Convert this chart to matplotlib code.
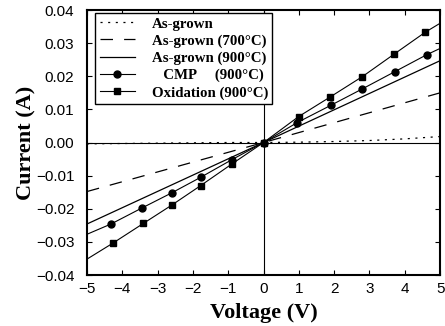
import matplotlib
matplotlib.use("Agg")
import matplotlib.pyplot as plt
from matplotlib.ticker import FuncFormatter, MultipleLocator

plt.rcParams['lines.scale_dashes'] = False

# Data
asg_v = [-5, -4, -3, -2, -1, 0, 1, 2, 3, 4, 5]
asg_i = [-0.0004, -0.0003, -0.0002, -0.0001, 0.0, 0.0, 0.0001, 0.0003, 0.0006, 0.0011, 0.0018]

a700_v = [-5, 0, 5]
a700_i = [-0.0148, 0.0, 0.0150]

a900_v = [-5, 0, 5]
a900_i = [-0.0246, 0.0, 0.0247]

cmp_v = [-5, -4.32, -3.45, -2.60, -1.78, -0.90, 0.0, 0.95, 1.90, 2.80, 3.72, 4.62, 5]
cmp_i = [-0.0277, -0.0246, -0.0198, -0.0152, -0.0105, -0.0052, 0.0, 0.0060, 0.0112, 0.0162, 0.0214, 0.0265, 0.0284]

ox_v = [-5, -4.27, -3.40, -2.60, -1.78, -0.90, 0.0, 0.99, 1.88, 2.80, 3.70, 4.58, 5]
ox_i = [-0.0352, -0.0304, -0.0244, -0.0189, -0.0130, -0.0065, 0.0, 0.0078, 0.0137, 0.0199, 0.0267, 0.0333, 0.0360]

labels = ["As-grown", "As-grown (700\u00b0C)", "As-grown (900\u00b0C)",
          "   CMP     (900\u00b0C)", "Oxidation (900\u00b0C)"]

fig = plt.figure(figsize=(4.45, 3.26), dpi=100)
ax = fig.add_axes([0.1955, 0.1564, 0.7935, 0.8129])

ax.axhline(0, color='black', lw=0.8, zorder=1)
ax.axvline(0, color='black', lw=0.8, zorder=1)

ax.plot(asg_v, asg_i, color='black', lw=0.9, dashes=(1.5, 4), label=labels[0])
ax.plot(a700_v, a700_i, color='black', lw=0.9, dashes=(9, 8), label=labels[1])
ax.plot(a900_v, a900_i, color='black', lw=0.9, label=labels[2])
ax.plot(cmp_v, cmp_i, color='black', lw=0.8, marker='o', markersize=5,
        markevery=slice(1, -1), label=labels[3])
ax.plot(ox_v, ox_i, color='black', lw=0.8, marker='s', markersize=5,
        markevery=slice(1, -1), label=labels[4])

ax.set_xlim(-5, 5)
ax.set_ylim(-0.04, 0.04)
ax.xaxis.set_major_locator(MultipleLocator(1))
ax.yaxis.set_major_locator(MultipleLocator(0.01))

def xfmt(v, pos):
    s = "%d" % round(v)
    return s.replace('-', '\u2212')

def yfmt(v, pos):
    s = "%.2f" % v
    if s == "-0.00":
        s = "0.00"
    return s.replace('-', '\u2212')

ax.xaxis.set_major_formatter(FuncFormatter(xfmt))
ax.yaxis.set_major_formatter(FuncFormatter(yfmt))
ax.tick_params(direction='in', length=3.5, width=0.8, top=True, right=True,
               labelsize=11)
ax.tick_params(axis='x', pad=5)
ax.tick_params(axis='y', pad=9)
for lab in ax.get_xticklabels() + ax.get_yticklabels():
    lab.set_family('Liberation Sans')

for sp in ax.spines.values():
    sp.set_linewidth(1.5)

ax.set_xlabel("Voltage (V)", family='Liberation Serif', weight='bold', fontsize=16, labelpad=5)
ax.set_ylabel("Current (A)", family='Liberation Serif', weight='bold', fontsize=16, labelpad=0)

leg = ax.legend(loc='upper left', bbox_to_anchor=(0.023, 0.99), frameon=True,
                fancybox=False, edgecolor='black', framealpha=1,
                prop={'family': 'Liberation Serif', 'weight': 'bold', 'size': 10.7},
                handlelength=2.4, handletextpad=1.1, labelspacing=0.25,
                borderpad=0.3, borderaxespad=0)
leg.get_frame().set_linewidth(1.0)

fig.savefig("out.png", dpi=100)
